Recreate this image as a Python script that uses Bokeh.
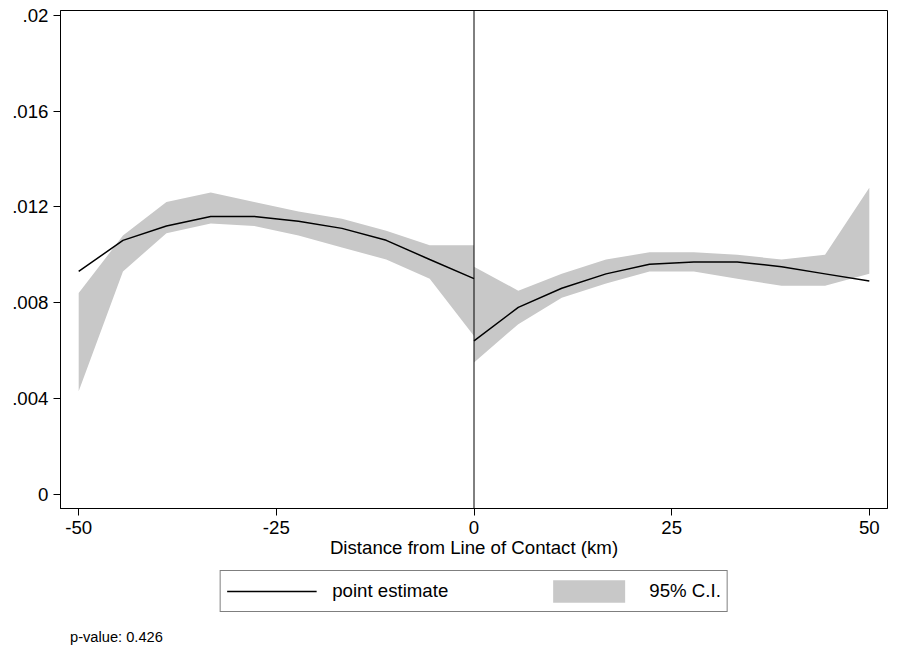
from bokeh.plotting import figure
from bokeh.models import Span, Legend, LegendItem, FixedTicker, CustomJSTickFormatter, Range1d, Div
from bokeh.layouts import column
from bokeh.embed import file_html
from bokeh.resources import INLINE

# left of the line of contact
x_left = [-50, -44.4, -38.9, -33.3, -27.8, -22.2, -16.7, -11.1, -5.6, 0]
est_left = [.0093, .0106, .0112, .0116, .0116, .0114, .0111, .0106, .0098, .0090]
hi_left = [.0084, .0108, .0122, .0126, .0122, .0118, .0115, .0110, .0104, .0104]
lo_left = [.0043, .0093, .0109, .0113, .0112, .0108, .0103, .0098, .0090, .0066]

# right of the line of contact
x_right = [0, 5.6, 11.1, 16.7, 22.2, 27.8, 33.3, 38.9, 44.4, 50]
est_right = [.0064, .0078, .0086, .0092, .0096, .0097, .0097, .0095, .0092, .0089]
hi_right = [.0095, .0085, .0092, .0098, .0101, .0101, .0100, .0098, .0100, .0128]
lo_right = [.0055, .0071, .0082, .0088, .0093, .0093, .0090, .0087, .0087, .0092]

FONT = "Liberation Sans"
BAND = "#c8c8c8"

p = figure(width=889, height=560, output_backend="svg", toolbar_location=None,
           x_range=Range1d(-52.3, 52.3), y_range=Range1d(-0.0006, 0.0202),
           min_border_left=60, min_border_right=2, min_border_top=10, min_border_bottom=4)
p.xgrid.visible = False
p.ygrid.visible = False
p.outline_line_color = "black"
p.outline_line_width = 1

p.varea(x=x_left, y1=lo_left, y2=hi_left, fill_color=BAND)
p.varea(x=x_right, y1=lo_right, y2=hi_right, fill_color=BAND)
p.line(x_left, est_left, line_color="black", line_width=1.5)
p.line(x_right, est_right, line_color="black", line_width=1.5)
p.add_layout(Span(location=0, dimension="height", line_color="black", line_width=1))

p.xaxis.ticker = FixedTicker(ticks=[-50, -25, 0, 25, 50])
p.xaxis.formatter = CustomJSTickFormatter(code="return tick.toFixed(0);")
p.yaxis.ticker = FixedTicker(ticks=[0, .004, .008, .012, .016, .02])
p.yaxis.formatter = CustomJSTickFormatter(code="""
if (tick == 0) return '0';
return tick.toFixed(3).replace(/0+$/, '').replace(/^0/, '');
""")
p.xaxis.axis_label = "Distance from Line of Contact (km)"
for ax in (p.xaxis, p.yaxis):
    ax.major_label_text_font = FONT
    ax.major_label_text_font_size = "14pt"
    ax.major_label_text_color = "black"
    ax.axis_label_text_font = FONT
    ax.axis_label_text_font_size = "14pt"
    ax.axis_label_text_font_style = "normal"
    ax.axis_label_text_color = "black"
    ax.axis_label_standoff = 0
    ax.minor_tick_line_color = None
    ax.major_tick_out = 7
    ax.major_tick_in = 0
    ax.axis_line_color = "black"
    ax.major_tick_line_color = "black"

# legend lives in its own small figure under the plot; its glyphs sit outside the view
lg = figure(width=889, height=62, output_backend="svg", toolbar_location=None,
            x_range=Range1d(0, 1), y_range=Range1d(0, 1), min_border=0)
lg.axis.visible = False
lg.grid.visible = False
lg.outline_line_color = None
r_line = lg.line([5, 6], [5, 5], line_color="black", line_width=1.5)
r_band = lg.varea(x=[5, 6], y1=[5, 5], y2=[6, 6], fill_color=BAND)
legend = Legend(items=[LegendItem(label="point estimate", renderers=[r_line]),
                       LegendItem(label="95% C.I.", renderers=[r_band])],
                orientation="horizontal", location="center",
                label_text_font=FONT, label_text_font_size="14pt", label_text_color="black",
                glyph_width=90, glyph_height=28, spacing=95, padding=6,
                label_standoff=16, border_line_color="black", margin=0)
lg.add_layout(legend)

note = Div(text="p-value: 0.426", width=300, height=18,
           styles={"font-family": FONT, "font-size": "11pt", "margin-left": "70px"})

open("out.html", "w").write(file_html(column(p, lg, note, spacing=0), INLINE))
